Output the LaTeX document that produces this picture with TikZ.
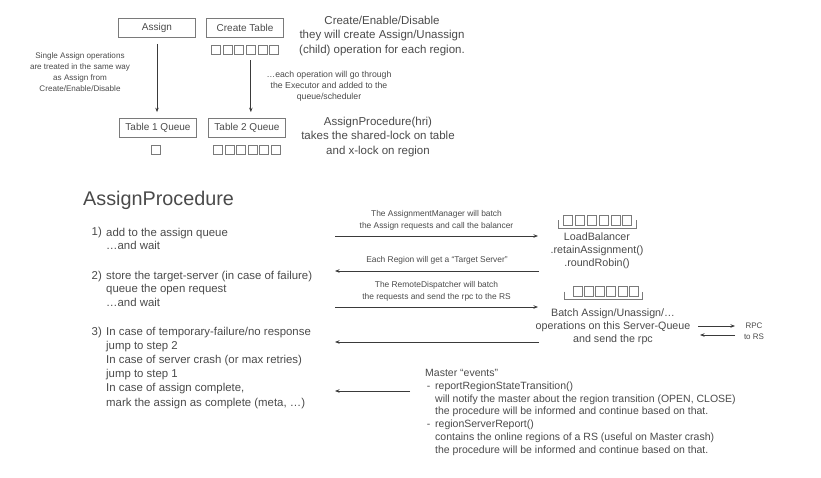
\documentclass[tikz,border=0pt]{standalone}
\usepackage{fontspec}
\setmainfont{Liberation Sans}
\usetikzlibrary{arrows.meta, positioning, calc}
\usepackage{xcolor}
\definecolor{txt}{HTML}{4A4A4A}
\definecolor{boxgray}{HTML}{7A7A7A}
\definecolor{arrgray}{HTML}{3A3A3A}

\begin{document}
\begin{tikzpicture}[
    x=1pt, y=-1pt,
    every node/.style={text=txt, inner sep=0pt},
    box/.style={
        rectangle, draw=boxgray, line width=0.7pt,
        minimum width=77pt, minimum height=19pt,
        font=\fontsize{10}{12}\selectfont
    },
    cell/.style={rectangle, draw=boxgray, line width=0.6pt, minimum width=9pt, minimum height=9.5pt},
    brk/.style={draw=boxgray, line width=0.7pt},
    note/.style={font=\fontsize{8.1}{11}\selectfont, align=center},
    big/.style={font=\fontsize{11.5}{14.5}\selectfont, align=center},
    stepnum/.style={font=\fontsize{11.4}{14}\selectfont, anchor=base east},
    steptxt/.style={font=\fontsize{11.4}{14}\selectfont, align=left, anchor=base west},
    msg/.style={font=\fontsize{8.4}{12}\selectfont, align=center},
    mid/.style={font=\fontsize{10.7}{12.8}\selectfont, align=center},
    arr/.style={-{Stealth[length=4.5pt, width=3.5pt]}, line width=0.8pt, arrgray},
]
\useasboundingbox (0,0) rectangle (821,478);

% Top: tables and queues
\node[box] (assign) at (157,28) {Assign};
\node[box] (ctable) at (245,28) {Create Table};
\node[box] (t1q) at (158,128) {Table 1 Queue};
\node[box] (t2q) at (247,128) {Table 2 Queue};

\foreach \i in {0,...,5}
    \node[cell] (ct\i) at ({215.75+\i*11.7},50) {};
\foreach \i in {0,...,5}
    \node[cell] (tq\i) at ({217.75+\i*11.6},150) {};
\node[cell] (t1c) at (155.5,150) {};

\draw[arr, shorten <=6pt, shorten >=6pt] (assign.south) -- (assign.south |- t1q.north);
\draw[arr, shorten <=5pt, shorten >=6pt] (ct3.south) -- (ct3.south |- t2q.north);

\node[note] (single) at (80,72) {Single Assign operations\\are treated in the same way\\as Assign from\\Create/Enable/Disable};
\node[note, font=\fontsize{8.7}{11}\selectfont] (each) at (329,86) {…each operation will go through\\the Executor and added to the\\queue/scheduler};
\node[big] (ced) at (382,36) {Create/Enable/Disable\\they will create Assign/Unassign\\(child) operation for each region.};
\node[big] (aphri) at (378,137) {AssignProcedure(hri)\\takes the shared-lock on table\\and x-lock on region};

% AssignProcedure steps
\node[font=\fontsize{19.8}{22}\selectfont, anchor=west] (title) at (83,200) {AssignProcedure};

\node[stepnum] (n1) at (102,236) {1)};
\node[steptxt, font=\fontsize{11.4}{13}\selectfont] (s1) at (106,249) {add to the assign queue\\…and wait};
\node[stepnum] (n2) at (102,279) {2)};
\node[steptxt, font=\fontsize{11.4}{13.5}\selectfont] (s2) at (106,306) {store the target-server (in case of failure)\\queue the open request\\…and wait};
\node[stepnum] (n3) at (102,335) {3)};
\node[steptxt, font=\fontsize{11.4}{14.2}\selectfont] (s3) at (106,406) {In case of temporary-failure/no response\\jump to step 2\\In case of server crash (or max retries)\\jump to step 1\\In case of assign complete,\\mark the assign as complete (meta, …)};

% Message arrows
\coordinate (a1s) at (335,236); \coordinate (a1e) at (538,236);
\coordinate (a2s) at (539,271); \coordinate (a2e) at (335,271);
\coordinate (a3s) at (335,307); \coordinate (a3e) at (538,307);
\coordinate (a4s) at (539,342); \coordinate (a4e) at (335,342);
\coordinate (a5s) at (410,391); \coordinate (a5e) at (335,391);

\draw[arr] (a1s) -- node[msg, above=5pt] {The AssignmentManager will batch\\the Assign requests and call the balancer} (a1e);
\draw[arr] (a2s) -- node[msg, above=6pt] {Each Region will get a “Target Server”} (a2e);
\draw[arr] (a3s) -- node[msg, above=5pt] {The RemoteDispatcher will batch\\the requests and send the rpc to the RS} (a3e);
\draw[arr] (a4s) -- (a4e);
\draw[arr] (a5s) -- (a5e);

% LoadBalancer queue
\foreach \i in {0,...,5}
    \node[cell] (lb\i) at ({567.75+\i*11.9},220.5) {};
\draw[brk] ($(lb0.west)+(-5,0)$) |- ($(lb5.south east)+(4,2.5)$) -- ($(lb5.east)+(4,0)$);
\node[mid] (lbtxt) at (597,251) {LoadBalancer\\.retainAssignment()\\.roundRobin()};

% Server queue
\foreach \i in {0,...,5}
    \node[cell] (sq\i) at ({577.5+\i*11.2},291.5) {};
\draw[brk] ($(sq0.west)+(-8,0)$) |- ($(sq5.south east)+(4,2.5)$) -- ($(sq5.east)+(4,0)$);
\node[mid] (batch) at (613,327) {Batch Assign/Unassign/…\\operations on this Server-Queue\\and send the rpc};

% RPC to RS
\coordinate (r1s) at (698,326); \coordinate (r1e) at (735,326);
\coordinate (r2s) at (735,335); \coordinate (r2e) at (700,335);
\draw[arr] (r1s) -- (r1e);
\draw[arr] (r2s) -- (r2e);
\node[note, font=\fontsize{8}{11}\selectfont] (rpc) at (754,331) {RPC\\to RS};

% Master events
\node[font=\fontsize{10.5}{12.7}\selectfont, align=left, anchor=base west] (events) at (425,453) {Master “events”\\
\makebox[10pt][l]{\,-}reportRegionStateTransition()\\
\hspace*{10pt}will notify the master about the region transition (OPEN, CLOSE)\\
\hspace*{10pt}the procedure will be informed and continue based on that.\\
\makebox[10pt][l]{\,-}regionServerReport()\\
\hspace*{10pt}contains the online regions of a RS (useful on Master crash)\\
\hspace*{10pt}the procedure will be informed and continue based on that.};

\end{tikzpicture}
\end{document}
